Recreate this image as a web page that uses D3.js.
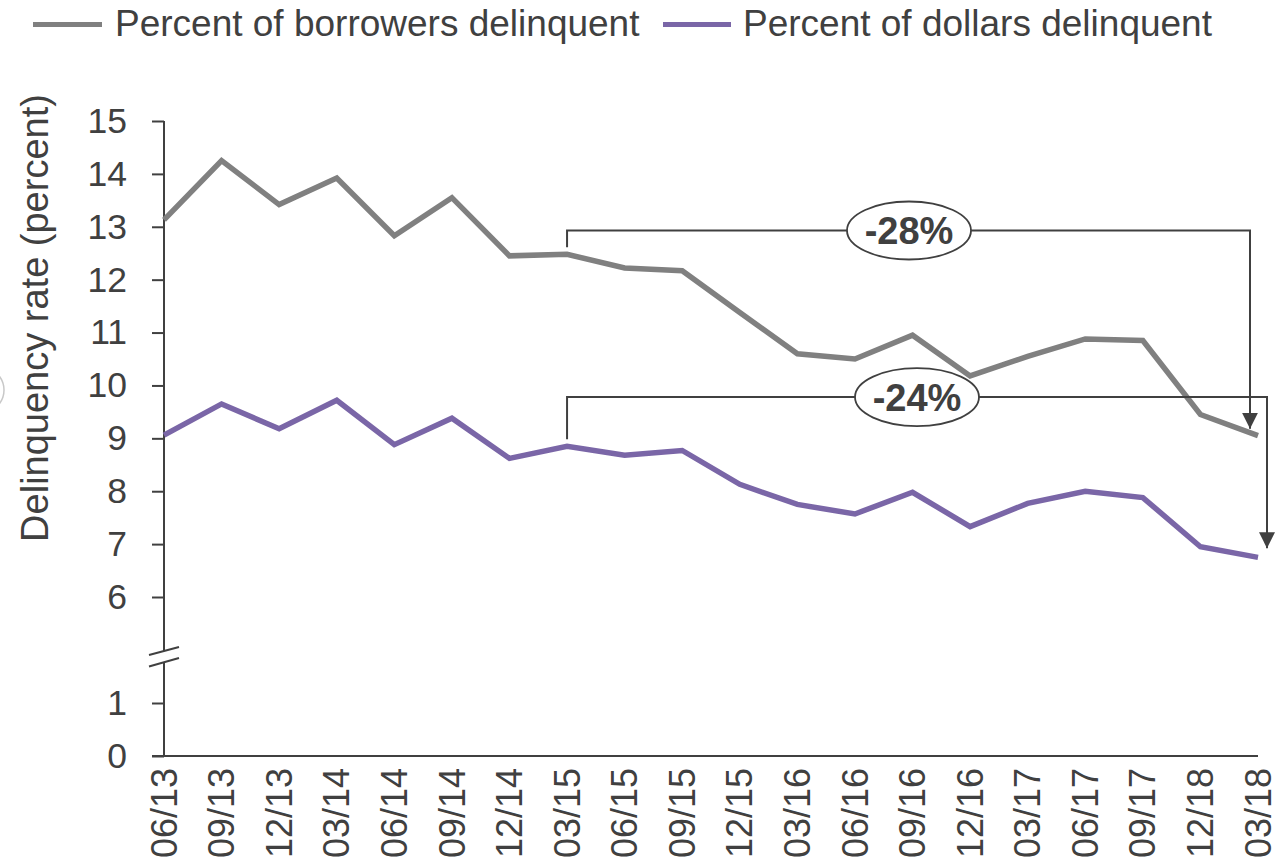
<!DOCTYPE html>
<html>
<head>
<meta charset="utf-8">
<script src="https://cdn.jsdelivr.net/npm/d3@7"></script>
<style>
  html, body { margin: 0; padding: 0; background: #fff; }
  svg { display: block; font-family: "Liberation Sans", Arial, sans-serif; }
</style>
</head>
<body>
<svg id="chart" width="1287" height="862"></svg>
<script>
// Quarter-end labels
const quarters = ["06/13","09/13","12/13","03/14","06/14","09/14","12/14","03/15","06/15","09/15",
                  "12/15","03/16","06/16","09/16","12/16","03/17","06/17","09/17","12/18","03/18"];

// Delinquency rates (percent)
const borrowersDelinquent = [13.13,14.25,13.42,13.92,12.83,13.55,12.45,12.48,12.22,12.17,
                             11.38,10.60,10.50,10.95,10.18,10.55,10.88,10.85,9.45,9.05];
const dollarsDelinquent   = [9.06,9.65,9.18,9.72,8.88,9.38,8.62,8.85,8.68,8.77,
                             8.13,7.75,7.57,7.98,7.33,7.77,8.00,7.88,6.95,6.75];

// Axis tick labels (upper and lower segments of the broken axis)
const upperTicks = [6,7,8,9,10,11,12,13,14,15];
const lowerTicks = [0,1];

const seriesNames = ["Percent of borrowers delinquent", "Percent of dollars delinquent"];
const seriesColors = ["#808080", "#7a66a7"];

// Change callouts: from 03/15 to 03/18
const changeLabels = ["-28%", "-24%"];
const calloutLevels = [12.93, 9.78];   // height of each bracket, in axis units
const calloutFrom = "03/15";
const calloutTo = "03/18";

const ink = "#404040";
const svg = d3.select("#chart");

const x = d3.scalePoint().domain(quarters).range([164, 1258]);
const yUpper = d3.scaleLinear().domain([6, 15]).range([597, 121]);
const yLower = d3.scaleLinear().domain([0, 1]).range([756, 703]);

// Faint arc at the left edge
svg.append("ellipse").attr("cx", -22).attr("cy", 390).attr("rx", 26).attr("ry", 24)
  .attr("fill", "none").attr("stroke", "#c8c8c8").attr("stroke-width", 1.5);

// Legend
const legend = svg.append("g");
const legendPos = [[33, 102, 115], [663, 731, 743]];
seriesNames.forEach((name, i) => {
  const [x0, x1, tx] = legendPos[i];
  legend.append("line").attr("x1", x0).attr("x2", x1).attr("y1", 24.5).attr("y2", 24.5)
    .attr("stroke", seriesColors[i]).attr("stroke-width", 5);
  legend.append("text").attr("x", tx).attr("y", 36).attr("fill", ink)
    .attr("font-size", 37).text(name);
});

// Y axis title
svg.append("text")
  .attr("transform", "translate(35,318) rotate(-90)")
  .attr("text-anchor", "middle").attr("dy", "0.35em")
  .attr("fill", ink).attr("font-size", 38)
  .text("Delinquency rate (percent)");

// Y axes (upper and lower pieces)
function styleAxis(g) {
  g.select(".domain").remove();
  g.selectAll(".tick line").attr("stroke", ink).attr("stroke-width", 2);
  g.selectAll(".tick text").attr("fill", ink).attr("font-size", 35.5)
    .attr("font-family", "Liberation Sans, Arial, sans-serif").attr("x", -37);
}
svg.append("g").attr("transform", "translate(164,0)")
  .call(d3.axisLeft(yUpper).tickValues(upperTicks).tickSize(12).tickFormat(d3.format("d")))
  .call(styleAxis);
svg.append("g").attr("transform", "translate(164,0)")
  .call(d3.axisLeft(yLower).tickValues(lowerTicks).tickSize(12).tickFormat(d3.format("d")))
  .call(styleAxis);

// Axis spine with break
const axisG = svg.append("g").attr("stroke", ink).attr("stroke-width", 2).attr("fill", "none");
axisG.append("line").attr("x1", 164).attr("x2", 164).attr("y1", yUpper(15)).attr("y2", 651);
axisG.append("line").attr("x1", 164).attr("x2", 164).attr("y1", 662).attr("y2", yLower(0) + 1);
axisG.append("line").attr("x1", 149).attr("x2", 179).attr("y1", 655).attr("y2", 647);
axisG.append("line").attr("x1", 149).attr("x2", 179).attr("y1", 666.5).attr("y2", 658);
axisG.append("line").attr("x1", 152).attr("x2", 1258).attr("y1", yLower(0)).attr("y2", yLower(0));

// X labels
svg.append("g").selectAll("text").data(quarters).join("text")
  .attr("transform", d => `translate(${x(d)},768) rotate(-90)`)
  .attr("text-anchor", "end").attr("dy", "0.35em")
  .attr("fill", ink).attr("font-size", 36).text(d => d);

// Series lines
const line = d3.line().x((d, i) => x(quarters[i])).y(d => yUpper(d));
[borrowersDelinquent, dollarsDelinquent].forEach((vals, i) => {
  svg.append("path").datum(vals).attr("d", line)
    .attr("fill", "none").attr("stroke", seriesColors[i])
    .attr("stroke-width", 5.5).attr("stroke-linejoin", "miter");
});

// Arrowhead marker
svg.append("defs").append("marker")
  .attr("id", "arrow").attr("viewBox", "0 0 10 10")
  .attr("refX", 10).attr("refY", 5)
  .attr("markerWidth", 8).attr("markerHeight", 8)
  .attr("markerUnits", "strokeWidth").attr("orient", "auto")
  .append("path").attr("d", "M0,0 L10,5 L0,10 Z").attr("fill", ink);

// Change callouts
const fromIdx = quarters.indexOf(calloutFrom);
const toIdx = quarters.indexOf(calloutTo);
const calloutSeries = [borrowersDelinquent, dollarsDelinquent];
const arrowOffsets = [-8, 9];
const labelCenters = [909, 917];
calloutSeries.forEach((vals, i) => {
  const xs = x(calloutFrom), xe = x(calloutTo) + arrowOffsets[i];
  const ys = yUpper(vals[fromIdx]) - 7;
  const yl = yUpper(calloutLevels[i]);
  const ye = yUpper(vals[toIdx]) - 7 - (i === 1 ? 2 : 0);
  const g = svg.append("g");
  g.append("path")
    .attr("d", `M${xs},${ys} V${yl} H${xe} V${ye}`)
    .attr("fill", "none").attr("stroke", ink).attr("stroke-width", 2)
    .attr("marker-end", "url(#arrow)");
  g.append("ellipse").attr("cx", labelCenters[i]).attr("cy", yl).attr("rx", 62).attr("ry", 29)
    .attr("fill", "#fff").attr("stroke", ink).attr("stroke-width", 1.8);
  g.append("text").attr("x", labelCenters[i]).attr("y", yl).attr("dy", "0.36em")
    .attr("text-anchor", "middle").attr("fill", ink)
    .attr("font-size", 38).attr("font-weight", "bold").text(changeLabels[i]);
});
</script>
</body>
</html>
